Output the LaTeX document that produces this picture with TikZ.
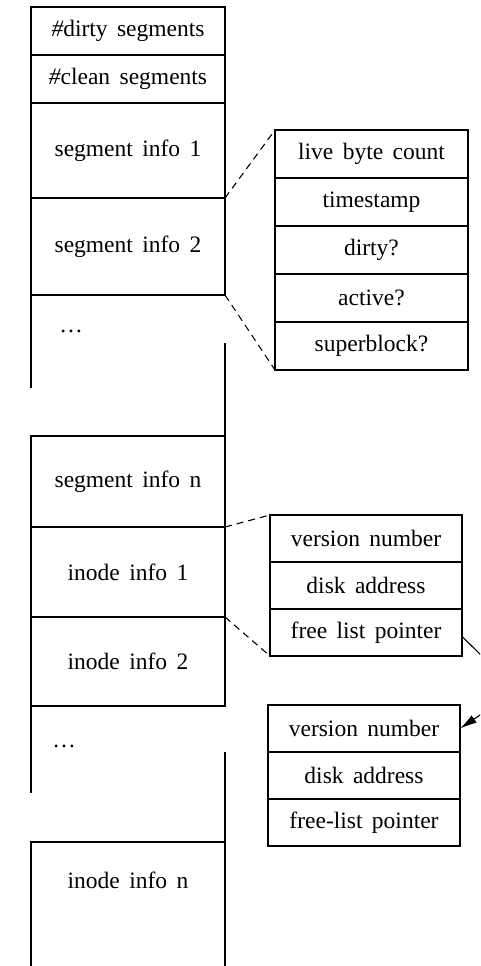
\documentclass[tikz,border=0pt]{standalone}
\usepackage{fontspec}
\setmainfont{Liberation Serif}[WordSpace=1.6]
\usetikzlibrary{arrows.meta,positioning}

\begin{document}
\begin{tikzpicture}[x=1pt,y=-1pt,line width=1.1pt,>={Latex[length=17pt,width=9pt]},
  every node/.style={font=\fontsize{23.5}{27}\selectfont},
  cell/.style={draw,inner sep=0pt,outer sep=0pt,minimum width=194pt},
  sub/.style={draw,inner sep=0pt,outer sep=0pt,minimum height=47pt},
  link/.style={dashed,dash pattern=on 7pt off 5pt}]
\clip (0,0) rectangle (480,966);

% segment usage table
\node[cell,minimum height=48pt] (dirty) at (128,31) {{\itshape\#}dirty segments};
\node[cell,minimum height=48pt,below=0pt of dirty] (clean) {{\itshape\#}clean segments};
\node[cell,minimum height=95pt,below=0pt of clean] (seg1) {segment info 1};
\node[cell,minimum height=97pt,below=0pt of seg1] (seg2) {segment info 2};
\node (dots1) at (71,331) {\dots};
\draw (seg2.south west) -- ++(0,93);
\node[cell,minimum height=91pt] (segn) at (128,481.5) {segment info n};
\draw (segn.north east) -- ++(0,-93);

% inode map
\node[cell,minimum height=90pt,below=0pt of segn] (ino1) {inode info 1};
\node[cell,minimum height=89pt,below=0pt of ino1] (ino2) {inode info 2};
\node (dots2) at (64,746) {\dots};
\draw (ino2.south west) -- ++(0,87);
\draw (31,990) -- (31,842) -- (225,842) -- (225,990);
\node (inon) at (128,880) {inode info n};
\draw (225,842) -- ++(0,-90);

% one segment entry
\node[sub,minimum width=193pt,minimum height=48pt] (live) at (371.5,154) {live byte count};
\node[sub,minimum width=193pt,minimum height=48pt,below=0pt of live] (stamp) {timestamp};
\node[sub,minimum width=193pt,minimum height=48pt,below=0pt of stamp] (isdirty) {dirty?};
\node[sub,minimum width=193pt,minimum height=48pt,below=0pt of isdirty] (active) {active?};
\node[sub,minimum width=193pt,minimum height=48pt,below=0pt of active] (sblock) {superblock?};
\draw[link] (seg2.north east) -- (live.north west);
\draw[link] (seg2.south east) -- (sblock.south west);

% inode entries
\node[sub,minimum width=192pt] (vn1) at (366,538.5) {version number};
\node[sub,minimum width=192pt,below=0pt of vn1] (da1) {disk address};
\node[sub,minimum width=192pt,below=0pt of da1] (fl1) {free list pointer};
\draw[link] (ino1.north east) -- (vn1.north west);
\draw[link] (ino1.south east) -- (fl1.south west);

\node[sub,minimum width=192pt] (vn2) at (364,728.5) {version number};
\node[sub,minimum width=192pt,below=0pt of vn2] (da2) {disk address};
\node[sub,minimum width=192pt,below=0pt of da2] (fl2) {free-list pointer};

% free list
\coordinate (bend) at (517,690);
\draw[->] ([yshift=-4pt]fl1.east) -- (bend) -- (vn2.east);
\end{tikzpicture}
\end{document}
